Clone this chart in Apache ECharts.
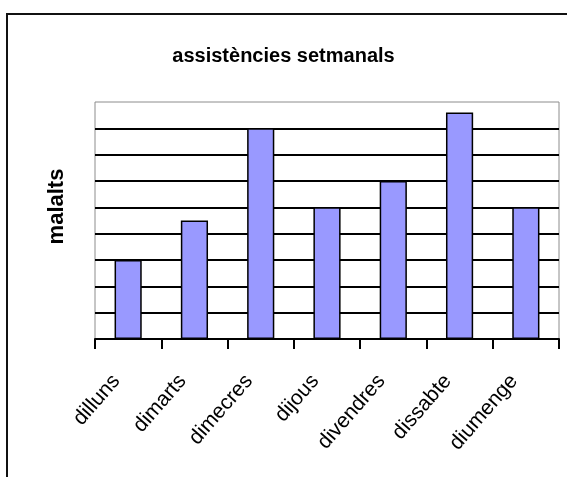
<!DOCTYPE html>
<html><head><meta charset="utf-8">
<script src="https://cdn.jsdelivr.net/npm/echarts@6/dist/echarts.min.js"></script>
<style>html,body{margin:0;padding:0;background:#fff}#c{width:567px;height:477px}</style>
</head><body><div id="c"></div>
<script>
const categories = ['dilluns','dimarts','dimecres','dijous','divendres','dissabte','diumenge'];
const malalts = [3, 4.5, 8, 5, 6, 8.6, 5];
const chartTitle = 'assistències setmanals';
const yName = 'malalts';

const chart = echarts.init(document.getElementById('c'), null, {renderer:'canvas'});
chart.setOption({
  animation: false,
  backgroundColor: '#fff',
  title: {
    text: chartTitle, left: 'center', top: 41,
    textStyle: {fontFamily: 'Liberation Sans, Arial, sans-serif', fontWeight: 'bold', fontSize: 20, color: '#000'}
  },
  graphic: [{
    type: 'rect', shape: {x: 7, y: 14, width: 600, height: 500},
    style: {fill: null, stroke: '#111', lineWidth: 2}, silent: true
  }],
  grid: {left: 95, right: 8, top: 102, bottom: 138, show: true, borderColor: '#8c8c8c', borderWidth: 1, backgroundColor: '#fff'},
  xAxis: {
    type: 'category', data: categories, boundaryGap: true,
    axisLine: {lineStyle: {color: '#000', width: 2}},
    axisTick: {show: true, length: 10, lineStyle: {color: '#000', width: 2}},
    axisLabel: {rotate: 49, margin: 25, padding: [0, 18, 0, 0], color: '#000', fontSize: 21, fontFamily: 'Liberation Sans, Arial, sans-serif'}
  },
  yAxis: {
    type: 'value', min: 0, max: 9, interval: 1,
    name: yName, nameLocation: 'middle', nameGap: 27, nameRotate: 90,
    nameTextStyle: {fontFamily: 'Liberation Sans, Arial, sans-serif', fontWeight: 'bold', fontSize: 22, color: '#000', padding: [0, 0, 0, 28]},
    axisLine: {show: false}, axisTick: {show: false}, axisLabel: {show: false},
    splitLine: {show: true, showMaxLine: false, lineStyle: {color: '#000', width: 2}}
  },
  series: [{
    type: 'bar', data: malalts, barWidth: '41%',
    itemStyle: {color: '#9999ff', borderColor: '#000', borderWidth: 1.5}
  }]
});
</script></body></html>
